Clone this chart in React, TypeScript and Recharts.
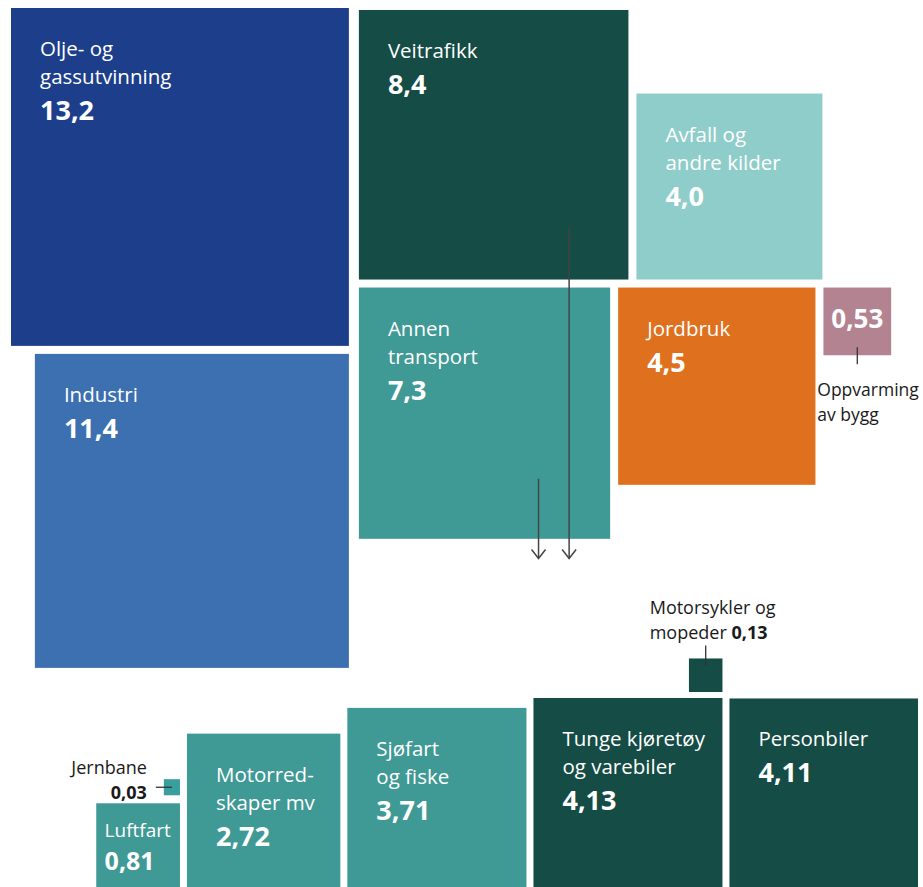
import React from 'react';
import { ScatterChart, Scatter, XAxis, YAxis, ZAxis } from 'recharts';

// Klimagassutslipp etter kilde (mill. tonn CO2-ekv.)
const sectors = [
  'Olje- og\ngassutvinning',
  'Industri',
  'Veitrafikk',
  'Annen\ntransport',
  'Avfall og\nandre kilder',
  'Jordbruk',
  'Oppvarming\nav bygg',
];
const sectorValues = [13.2, 11.4, 8.4, 7.3, 4.0, 4.5, 0.53];

// Transport broken down
const transportModes = [
  'Personbiler',
  'Tunge kjøretøy\nog varebiler',
  'Motorsykler og\nmopeder',
  'Sjøfart\nog fiske',
  'Motorred-\nskaper mv',
  'Luftfart',
  'Jernbane',
];
const transportValues = [4.11, 4.13, 0.13, 3.71, 2.72, 0.81, 0.03];

const sectorColors = ['#1d3f8b', '#3c70b1', '#154c45', '#3f9995', '#8fcdca', '#df711e', '#b48391'];
const sectorLabelModes = ['inside', 'inside', 'inside', 'inside', 'inside', 'inside', 'below'];
const transportColors = ['#154c45', '#154c45', '#154c45', '#3f9995', '#3f9995', '#3f9995', '#3a9e9c'];
const transportLabelModes = ['inside', 'inside', 'above', 'inside', 'inside', 'inside', 'left'];

const W = 923;
const H = 887;
const K = 93; // px per sqrt(mill. tonn)
const Z_MAX = 16;
const GAP = 8;
const FONT = "'Open Sans', 'Noto Sans', sans-serif";

type Box = { x: number; y: number; s: number };
const side = (v: number) => K * Math.sqrt(v);

// pack the squares next to each other, sizes come from the values
function layoutSectors(): Box[] {
  const s = sectorValues.map(side);
  const olje = { x: 11, y: 8, s: s[0] };
  const industri = { x: olje.x + olje.s - s[1], y: olje.y + olje.s + GAP, s: s[1] };
  const vei = { x: olje.x + olje.s + GAP + 2, y: olje.y + 2, s: s[2] };
  const annen = { x: vei.x, y: vei.y + vei.s + GAP, s: s[3] };
  const avfall = { x: vei.x + vei.s + GAP, y: vei.y + vei.s - s[4], s: s[4] };
  const jord = { x: annen.x + annen.s + GAP, y: annen.y, s: s[5] };
  const oppv = { x: jord.x + jord.s + GAP, y: annen.y, s: s[6] };
  return [olje, industri, vei, annen, avfall, jord, oppv];
}

function layoutTransport(): Box[] {
  const s = transportValues.map(side);
  const g = 7;
  const pers = { x: W - 5 - s[0], y: H - s[0], s: s[0] };
  const tunge = { x: pers.x - g - s[1], y: H - s[1], s: s[1] };
  const moto = { x: tunge.x + tunge.s - s[2], y: tunge.y - 6 - s[2], s: s[2] };
  const sjo = { x: tunge.x - g - s[3], y: H - s[3], s: s[3] };
  const motorred = { x: sjo.x - g - s[4], y: H - s[4], s: s[4] };
  const luft = { x: motorred.x - g - s[5], y: H - s[5], s: s[5] };
  const jern = { x: luft.x + luft.s - s[6], y: luft.y - GAP - s[6], s: s[6] };
  return [pers, tunge, moto, sjo, motorred, luft, jern];
}

const sectorBoxes = layoutSectors();
const transportBoxes = layoutTransport();

const fmt = (v: number, d: number) => v.toFixed(d).replace('.', ',');

const squares = [
  ...sectors.map((name, i) => ({
    name,
    value: sectorValues[i],
    label: fmt(sectorValues[i], sectorValues[i] < 1 ? 2 : 1),
    color: sectorColors[i],
    mode: sectorLabelModes[i],
    cx: sectorBoxes[i].x + sectorBoxes[i].s / 2,
    cy: sectorBoxes[i].y + sectorBoxes[i].s / 2,
  })),
  ...transportModes.map((name, i) => ({
    name,
    value: transportValues[i],
    label: fmt(transportValues[i], 2),
    color: transportColors[i],
    mode: transportLabelModes[i],
    cx: transportBoxes[i].x + transportBoxes[i].s / 2,
    cy: transportBoxes[i].y + transportBoxes[i].s / 2,
  })),
];

// arrows from Veitrafikk and Annen transport down to the breakdown
const tipY = Math.min(...transportBoxes.map((b) => b.y)) - 100;
const vei = sectorBoxes[2];
const annen = sectorBoxes[3];
const arrows = [
  { cx: vei.x + vei.s * 0.78, cy: tipY, value: 1, len: tipY - (vei.y + vei.s - 52) },
  { cx: annen.x + annen.s * 0.715, cy: tipY, value: 1, len: tipY - (annen.y + annen.s - 60) },
];

function Square(props: any) {
  const { cx, cy, payload } = props;
  const size = props.size ?? Math.PI * (props.width / 2) ** 2;
  const s = Math.sqrt(size);
  const x = cx - s / 2;
  const y = cy - s / 2;
  const lines: string[] = payload.name.split('\n');
  const small = s < 140;
  const pad = small ? s * 0.1 : 29;
  const base = small ? 34 : 48;
  const nameSize = small ? 19 : 20.5;
  const valueSize = small ? 25 : 27;
  const lh = 28;

  let label: React.ReactNode = null;
  if (payload.mode === 'inside') {
    label = (
      <text x={x + pad} y={y + base} fill="#fff" fontFamily={FONT} fontSize={nameSize}>
        {lines.map((l, i) => (
          <tspan key={i} x={x + pad} dy={i === 0 ? 0 : lh}>
            {l}
          </tspan>
        ))}
        <tspan x={x + pad} dy={small ? 33 : 36} fontSize={valueSize} fontWeight={700}>
          {payload.label}
        </tspan>
      </text>
    );
  } else if (payload.mode === 'below') {
    label = (
      <g fontFamily={FONT}>
        <text x={cx} y={y + s * 0.6} fill="#fff" fontSize={26} fontWeight={700} textAnchor="middle">
          {payload.label}
        </text>
        <line x1={cx} x2={cx} y1={y + s - 8} y2={y + s + 9} stroke="#333" strokeWidth={1.3} />
        <text x={cx - 40} y={y + s + 41} fill="#1a1a1a" fontSize={17.5}>
          {lines.map((l, i) => (
            <tspan key={i} x={cx - 40} dy={i === 0 ? 0 : 24.5}>
              {l}
            </tspan>
          ))}
        </text>
      </g>
    );
  } else if (payload.mode === 'above') {
    label = (
      <g fontFamily={FONT} fill="#1a1a1a">
        <line x1={cx} x2={cx} y1={y - 13} y2={y + 7} stroke="#333" strokeWidth={1.3} />
        <text x={cx - 56} y={y - 44} fontSize={18}>
          {lines.map((l, i) => (
            <tspan key={i} x={cx - 56} dy={i === 0 ? 0 : 25}>
              {l}
              {i === lines.length - 1 && <tspan fontWeight={700}>{' ' + payload.label}</tspan>}
            </tspan>
          ))}
        </text>
      </g>
    );
  } else if (payload.mode === 'left') {
    label = (
      <g fontFamily={FONT} fill="#1a1a1a">
        <line x1={x - 8} x2={x + s / 2} y1={cy} y2={cy} stroke="#333" strokeWidth={1.3} />
        <text x={x - 17} y={cy - 13} fontSize={18} textAnchor="end">
          <tspan x={x - 17}>{lines[0]}</tspan>
          <tspan x={x - 17} dy={25} fontWeight={700}>
            {payload.label}
          </tspan>
        </text>
      </g>
    );
  }

  return (
    <g>
      <rect x={x} y={y} width={s} height={s} fill={payload.color} />
      {label}
    </g>
  );
}

function Arrow(props: any) {
  const { cx, cy, payload } = props;
  return (
    <g stroke="#444" strokeWidth={1.5} fill="none">
      <line x1={cx} x2={cx} y1={cy - payload.len} y2={cy} />
      <polyline points={`${cx - 7},${cy - 9} ${cx},${cy} ${cx + 7},${cy - 9}`} />
    </g>
  );
}

export default function App() {
  return (
    <div style={{ position: 'absolute', left: 0, top: 0, background: '#fff' }}>
      <ScatterChart width={W} height={H} margin={{ top: 0, right: 0, bottom: 0, left: 0 }}>
        <XAxis type="number" dataKey="cx" domain={[0, W]} allowDataOverflow hide />
        <YAxis type="number" dataKey="cy" domain={[0, H]} allowDataOverflow reversed hide />
        <ZAxis type="number" dataKey="value" domain={[0, Z_MAX]} range={[0, K * K * Z_MAX]} />
        <Scatter data={squares} shape={Square} isAnimationActive={false} />
        <Scatter data={arrows} shape={Arrow} isAnimationActive={false} />
      </ScatterChart>
    </div>
  );
}
